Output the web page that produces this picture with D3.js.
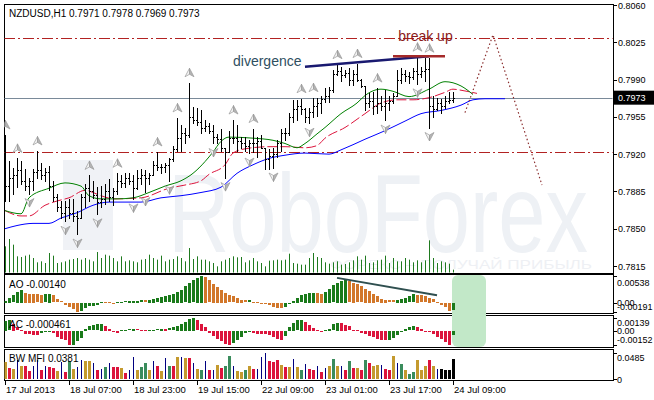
<!DOCTYPE html>
<html><head><meta charset="utf-8">
<script src="https://cdn.jsdelivr.net/npm/d3@7"></script>
<style>body{margin:0;background:#fff}svg{display:block;font-family:"Liberation Sans",Arial,sans-serif}</style>
</head><body><svg id="c" width="654" height="400"></svg>
<script>
// ---------- DATA ----------
const symbolTitle = "NZDUSD,H1  0.7971 0.7978 0.7969 0.7973";
const highs = [.7938,.7914,.7907,.7916,.7914,.7906,.7898,.7906,.7923,.7912,.7907,.7909,.7895,.7883,.7876,.7876,.7878,.7878,.7867,.7883,
.7892,.7900,.7895,.7889,.7890,.7892,.7897,.7888,.7902,.7900,.7902,.7902,.7900,.7905,.7906,.7905,.7902,.7914,.7922,.7911,
.7912,.7916,.7928,.7954,.7947,.7945,.7987,.7964,.7963,.7961,.7952,.7949,.7947,.7939,.7944,.7926,.7942,.7952,.7947,.7936,
.7936,.7933,.7944,.7936,.7938,.7926,.7925,.7926,.7933,.7944,.7945,.7959,.7971,.7971,.7972,.7963,.7963,.7973,.7973,.7975,
.7982,.7983,.7999,.8004,.8002,.7999,.8001,.7999,.8005,.7991,.7984,.7977,.7978,.7982,.7975,.7980,.7975,.7977,.7999,.8001,
.7999,.7997,.8001,.8011,.8002,.8010,.8010,.7975,.7973,.7972,.7975,.7978,.7978];
const lows = [.7876,.7876,.7883,.7889,.7892,.7886,.7883,.7886,.7898,.7897,.7895,.7886,.7876,.7867,.7860,.7857,.7860,.7857,.7845,.7860,
.7870,.7876,.7879,.7864,.7870,.7873,.7876,.7872,.7883,.7889,.7889,.7892,.7878,.7887,.7892,.7884,.7892,.7900,.7905,.7902,
.7903,.7895,.7914,.7923,.7923,.7930,.7936,.7949,.7947,.7940,.7942,.7940,.7930,.7930,.7923,.7898,.7922,.7930,.7923,.7926,
.7923,.7921,.7922,.7917,.7926,.7906,.7906,.7907,.7917,.7923,.7933,.7938,.7950,.7952,.7958,.7950,.7949,.7955,.7956,.7959,
.7969,.7969,.7978,.7994,.7989,.7992,.7985,.7985,.7989,.7983,.7961,.7964,.7958,.7959,.7961,.7952,.7961,.7968,.7975,.7987,
.7989,.7987,.7991,.7986,.7992,.7989,.7945,.7955,.7961,.7959,.7963,.7968,.7969];
const closes = [.7890,.7898,.7900,.7905,.7895,.7890,.7895,.7903,.7905,.7900,.7903,.7890,.7880,.7870,.7865,.7870,.7865,.7862,.7860,.7880,
.7888,.7885,.7882,.7875,.7878,.7885,.7880,.7885,.7895,.7893,.7898,.7895,.7888,.7898,.7900,.7898,.7900,.7910,.7908,.7908,
.7910,.7915,.7925,.7935,.7940,.7938,.7955,.7952,.7950,.7945,.7946,.7942,.7936,.7934,.7926,.7922,.7935,.7935,.7932,.7930,
.7928,.7930,.7930,.7932,.7926,.7915,.7918,.7920,.7930,.7940,.7940,.7955,.7962,.7965,.7962,.7955,.7960,.7965,.7968,.7972,
.7975,.7980,.7995,.7998,.7994,.7996,.7990,.7995,.7990,.7984,.7968,.7970,.7965,.7968,.7965,.7968,.7970,.7975,.7990,.7995,
.7993,.7992,.7998,.7995,.7998,.8000,.7965,.7962,.7968,.7965,.7970,.7971,.7973];
const firstOpen = 0.7930;
const volumes = [800,1020,850,500,480,520,550,450,320,350,300,600,520,300,320,350,400,420,450,400,
450,400,350,630,450,550,520,450,350,500,350,380,350,320,400,420,550,450,400,520,
350,400,420,500,450,350,750,420,500,400,400,350,300,200,350,400,450,500,470,480,
320,380,450,350,300,200,370,380,400,380,400,580,300,280,250,250,450,600,480,450,
320,280,320,350,250,270,320,380,500,400,520,300,320,380,400,520,300,450,350,350,
450,400,320,380,320,380,980,450,300,350,320,280,100];
const lipsLine = [[0,.7867],[4,.7864],[6,.7879],[11,.7888],[15,.7893],[19,.7890],[21,.7881],[24,.7878],[28,.7878],[32,.7879],[36,.7884],[40,.7890],[44,.7895],[47,.7902],[50,.7913],[52,.7922],[54,.7932],[56,.7936],[62,.7935],[67,.7933],[70,.7930],[73,.7926],[75,.7930],[78,.7939],[80,.7945],[84,.7958],[88,.7968],[90,.7975],[94,.7981],[97,.7979],[101,.7974],[106,.7981],[110,.7988],[114,.7984],[117,.7976]];
const teethLine = [[0,.7867],[4,.7862],[6,.7862],[10,.7872],[13,.7876],[16,.7879],[20,.7886],[24,.7881],[27,.7878],[34,.7879],[41,.7888],[45,.7891],[49,.7895],[51,.7901],[55,.7910],[57,.7921],[60,.7925],[66,.7927],[70,.7927],[75,.7926],[78,.7928],[80,.7935],[85,.7945],[90,.7958],[94,.7968],[98,.7971],[102,.7971],[106,.7973],[110,.7978],[112,.7981],[114,.7980],[118,.7977]];
const jawLine = [[0,.7850],[3,.7853],[7,.7855],[11,.7855],[14,.7860],[18,.7865],[22,.7872],[26,.7875],[30,.7875],[34,.7875],[39,.7879],[44,.7881],[49,.7884],[54,.7889],[58,.7902],[62,.7910],[66,.7916],[70,.7919],[75,.7921],[81,.7920],[84,.7924],[90,.7934],[95,.7942],[100,.7951],[104,.7958],[109,.7961],[114,.7966],[117,.7971],[120,.7972],[125,.7972]];
const upFractals = [0,3,8,21,28,38,43,46,57,62,74,77,83,88,93,103,106];
const downFractals = [6,15,18,23,32,35,41,52,55,61,67,76,95,103,106];
const aoValues = [.00034,.00101,.00149,.00216,.00263,.00196,.00182,.00178,.00169,.00160,.00170,.00175,.00149,.00068,.00027,-.00034,-.00074,-.00122,-.00191,-.00155,
-.00108,-.00070,-.00054,-.00034,.00012,.00008,.00004,-.00003,.00005,.00015,.00027,.00034,.00036,.00041,.00047,.00044,.00061,.00074,.00088,.00115,
.00128,.00149,.00182,.00216,.00263,.00331,.00398,.00452,.00500,.00538,.00520,.00452,.00385,.00317,.00263,.00196,.00149,.00128,.00094,.00061,
.00047,.00050,.00020,.00007,-.00007,-.00020,-.00041,-.00074,-.00101,-.00105,-.00074,-.00020,.00034,.00101,.00149,.00182,.00196,.00203,.00196,.00182,
.00216,.00284,.00351,.00405,.00439,.00466,.00432,.00398,.00371,.00331,.00284,.00236,.00182,.00128,.00081,.00061,.00047,.00045,.00061,.00081,
.00101,.00128,.00169,.00162,.00149,.00128,.00101,.00068,.00020,-.00034,-.00088,-.00169,-.00140];
const acValues = [.00101,.00108,.00072,.00036,.00007,-.00029,-.00036,-.00040,-.00043,-.00020,-.00005,.00000,-.00020,-.00060,-.00085,-.00100,-.00148,-.00145,-.00110,-.00075,
.00018,.00045,.00055,.00065,.00072,.00050,.00020,-.00010,-.00018,.00005,.00012,.00015,.00018,.00014,.00012,.00008,.00010,.00012,.00014,.00022,
.00020,.00025,.00036,.00050,.00070,.00090,.00125,.00139,.00110,.00072,.00040,-.00018,-.00050,-.00080,-.00110,-.00140,-.00150,-.00130,-.00100,-.00060,
-.00020,-.00005,-.00025,-.00030,-.00032,-.00036,-.00040,-.00065,-.00080,-.00090,-.00050,.00040,.00080,.00110,.00115,.00090,.00060,.00030,.00008,-.00010,
.00005,.00020,.00065,.00085,.00082,.00060,.00045,.00010,.00002,-.00018,-.00035,-.00050,-.00065,-.00080,-.00090,-.00100,-.00095,-.00075,-.00045,-.00015,
.00020,.00035,.00045,.00040,.00020,.00000,-.00010,-.00035,-.00060,-.00085,-.00115,-.00152,-.000461];
const mfiValues = [.0311,.0205,.0193,.0361,.0236,.0236,.0143,.0236,.0348,.0162,.0249,.0218,.0205,.0156,.0311,.0131,.0330,.0187,.0224,.0348,
.0330,.0330,.0299,.0174,.0187,.0218,.0299,.0224,.0224,.0199,.0112,.0174,.0404,.0174,.0218,.0299,.0174,.0330,.0236,.0156,
.0392,.0236,.0249,.0404,.0410,.0392,.0386,.0299,.0187,.0174,.0330,.0162,.0174,.0267,.0205,.0236,.0435,.0236,.0143,.0124,
.0174,.0236,.0187,.0187,.0410,.0485,.0330,.0311,.0348,.0267,.0224,.0218,.0373,.0224,.0174,.0280,.0187,.0174,.0249,.0124,
.0205,.0236,.0373,.0236,.0236,.0174,.0342,.0205,.0205,.0174,.0361,.0299,.0249,.0267,.0267,.0187,.0174,.0435,.0299,.0280,
.0174,.0100,.0124,.0348,.0174,.0236,.0361,.0236,.0187,.0187,.0174,.0174,.0381];
// g = green, b = brown (fade), n = blue (fake), p = pink (squat)
const mfiKinds = "bpbnbppnnpnppbnpgbnnbbnpngnppbpnnbggbnpbngpbnbpnbgnpnbpggnbbgbpnnnpppbpbnbgnppnpnbgbnpgpbpgpbbnppbngbggbbbpbn".split("");
const priceTicks = [0.8060,0.8025,0.7990,0.7955,0.7920,0.7885,0.7850,0.7815];
const timeBars = [0,16,32,48,64,80,96,112];
const timeTexts = ["17 Jul 2013","18 Jul 07:00","18 Jul 23:00","19 Jul 15:00","22 Jul 09:00","23 Jul 01:00","23 Jul 17:00","24 Jul 09:00"];
const levelLines = [0.8029, 0.7922];
const currentPrice = 0.7973;
const divergenceLine = [[75,0.8002],[106,0.8012]];
const breakUpLine = [[97,0.8012],[110,0.8012]];
const forecastLine = [[115,0.7959],[122,0.8032],[134.25,0.7891]];
const aoDivergenceLine = [[83,0.00500],[108,0.00150]];
const labelDivergence = {bar:57, price:0.8003, text:"divergence"};
const labelBreakUp = {bar:98.3, price:0.80262, text:"break up"};
const aoTicks = {max:"0.00538", zero:"0.00", min:"-0.00191"};
const acTicks = {max:"0.00139", zero:"0.00", min:"-0.00152"};
const mfiTicks = {max:"0.0485", zero:"0"};
const highlightBars = [111.75, 120.25];

// ---------- LAYOUT ----------
const svg = d3.select("#c");
const L = 4, R = 613;
const P = {price:[4,273], ao:[274,313], ac:[315,347], mfi:[349,380]};
const x = d3.scaleLinear().domain([0,112]).range([5,453]);
const y = d3.scaleLinear().domain([0.7815,0.8060]).range([266,5]);
const yv = d3.scaleLinear().domain([0,3000]).range([273,173]);
const yao = d3.scaleLinear().domain([-0.00191,0.00538]).range([312,276]);
const yac = d3.scaleLinear().domain([-0.00152,0.00139]).range([345,317.5]);
const ymfi = d3.scaleLinear().domain([0,0.0485]).range([379,353]);
const n = closes.length;
const opens = closes.map((c,i)=> i===0 ? firstOpen : closes[i-1]);

const defs = svg.append("defs");
Object.entries(P).forEach(([k,[t,b]])=>{
  defs.append("clipPath").attr("id","clip-"+k).append("rect").attr("x",L+0.5).attr("y",t+0.5).attr("width",R-L-1).attr("height",b-t-1);
});

// panel frames
Object.values(P).forEach(([t,b])=>{
  svg.append("rect").attr("x",L+0.5).attr("y",t+0.5).attr("width",R-L).attr("height",b-t)
    .attr("fill","#fff").attr("stroke","#000").attr("stroke-width",1);
});

// ---------- PRICE PANEL ----------
const gp = svg.append("g").attr("clip-path","url(#clip-price)");
// watermark
gp.append("path").attr("d","M63,160 h50 v90 h-50 z").attr("fill","#f0f2f6");
gp.append("text").attr("transform","translate(168,252) scale(1,1.3)").attr("font-size",85).attr("textLength",420).attr("lengthAdjust","spacingAndGlyphs")
  .attr("fill","#eef1f5").text("RoboForex");
gp.append("text").attr("x",330).attr("y",269).attr("font-size",12).attr("textLength",262).attr("lengthAdjust","spacingAndGlyphs")
  .attr("fill","#eef0f4").text("ФОРЕКС – ПОЛУЧАЙ ПРИБЫЛЬ");

// volumes
gp.selectAll("line.vol").data(volumes).join("line").attr("class","vol")
  .attr("x1",(d,i)=>x(i)+0.5).attr("x2",(d,i)=>x(i)+0.5).attr("y1",yv(0)).attr("y2",d=>yv(d))
  .attr("stroke","#1f7a1f").attr("stroke-width",1);

// level lines
levelLines.forEach(p=>{
  gp.append("line").attr("x1",L).attr("x2",R).attr("y1",Math.round(y(p))+0.5).attr("y2",Math.round(y(p))+0.5)
    .attr("stroke","#b22222").attr("stroke-width",1).attr("stroke-dasharray","11,3,2,3");
});
gp.append("line").attr("x1",L).attr("x2",R).attr("y1",Math.round(y(currentPrice))+0.5).attr("y2",Math.round(y(currentPrice))+0.5)
  .attr("stroke","#7a8a99").attr("stroke-width",1);

// alligator
const line = d3.line().x(d=>x(d[0])).y(d=>y(d[1])).curve(d3.curveMonotoneX);
gp.append("path").attr("d",line(jawLine)).attr("fill","none").attr("stroke","#0000ff").attr("stroke-width",1);
gp.append("path").attr("d",line(teethLine)).attr("fill","none").attr("stroke","#dc143c").attr("stroke-width",1).attr("stroke-dasharray","10,3");
gp.append("path").attr("d",line(lipsLine)).attr("fill","none").attr("stroke","#008000").attr("stroke-width",1);

// OHLC bars
const gb = gp.append("g").attr("fill","#000").attr("shape-rendering","crispEdges");
for(let i=0;i<n;i++){
  const xi = x(i);
  const yh = Math.round(y(highs[i])), yl = Math.round(y(lows[i]));
  gb.append("rect").attr("x",xi).attr("y",yh).attr("width",1).attr("height",Math.max(1,yl-yh+1));
  gb.append("rect").attr("x",xi-1).attr("y",Math.round(y(opens[i]))).attr("width",1).attr("height",1);
  gb.append("rect").attr("x",xi+1).attr("y",Math.round(y(closes[i]))).attr("width",1).attr("height",1);
}

// fractal arrows
function arrow(g,cx,cy,up){
  const s = up?1:-1;
  g.append("path").attr("d",`M${cx},${cy-4.5*s} L${cx-4.5},${cy+4*s} L${cx},${cy+1.5*s} Z`).attr("fill","#f2f2f2").attr("stroke","#9a9a9a").attr("stroke-width",0.7);
  g.append("path").attr("d",`M${cx},${cy-4.5*s} L${cx+4.5},${cy+4*s} L${cx},${cy+1.5*s} Z`).attr("fill","#b4b4b4").attr("stroke","#9a9a9a").attr("stroke-width",0.7);
}
const ga = gp.append("g");
upFractals.forEach(i=>arrow(ga,x(i)+0.5,y(highs[i])-10,true));
downFractals.forEach(i=>arrow(ga,x(i)+0.5,y(lows[i])+9,false));

// annotations
const lin = d3.line().x(d=>x(d[0])).y(d=>y(d[1]));
gp.append("path").attr("d",lin(forecastLine)).attr("fill","none").attr("stroke","#8b2e2e").attr("stroke-width",1.2).attr("stroke-dasharray","1.5,2.5");
gp.append("path").attr("d",lin(divergenceLine)).attr("fill","none").attr("stroke","#191970").attr("stroke-width",2.5);
gp.append("path").attr("d",lin(breakUpLine)).attr("fill","none").attr("stroke","#a52a2a").attr("stroke-width",2.5);
gp.append("text").attr("x",x(labelDivergence.bar)).attr("y",y(labelDivergence.price)).attr("font-size",14).attr("fill","#2f4f5f").text(labelDivergence.text);
gp.append("text").attr("x",x(labelBreakUp.bar)).attr("y",y(labelBreakUp.price)).attr("font-size",14).attr("fill","#8b1a1a").text(labelBreakUp.text);

svg.append("text").attr("x",9).attr("y",17).attr("font-size",10).attr("fill","#000").text(symbolTitle);

// ---------- INDICATOR PANELS ----------
svg.append("rect").attr("x",x(highlightBars[0])).attr("y",P.ao[0]+1).attr("width",x(highlightBars[1])-x(highlightBars[0]))
  .attr("height",P.ac[1]-P.ao[0]-1).attr("rx",6).attr("fill","#c2e8c8");

function histo(vals, ys, up, down, clip){
  const g = svg.append("g").attr("clip-path",`url(#clip-${clip})`).attr("shape-rendering","crispEdges");
  g.selectAll("rect").data(vals).join("rect")
    .attr("x",(d,i)=>x(i)-1).attr("width",3)
    .attr("y",d=>Math.round(Math.min(ys(d),ys(0)))).attr("height",d=>Math.max(1,Math.round(Math.abs(ys(d)-ys(0)))))
    .attr("fill",(d,i)=> (i===0 || d>vals[i-1]) ? up : down);
}
histo(aoValues, yao, "#1a7a1a", "#d2772a", "ao");
histo(acValues, yac, "#1a7a1a", "#dc143c", "ac");
svg.append("path").attr("d",d3.line().x(d=>x(d[0])).y(d=>yao(d[1]))(aoDivergenceLine)).attr("fill","none").attr("stroke","#2f4f4f").attr("stroke-width",2);

// MFI
const mfiColor = {g:"#3a8c5c", b:"#c49a2e", n:"#000080", p:"#dc143c"};
const gm = svg.append("g").attr("clip-path","url(#clip-mfi)").attr("shape-rendering","crispEdges");
gm.selectAll("rect").data(mfiValues).join("rect")
  .attr("x",(d,i)=> mfiKinds[i]==="n" ? x(i) : x(i)-1).attr("width",(d,i)=> mfiKinds[i]==="n" ? 1 : 3)
  .attr("y",d=>Math.round(ymfi(d))).attr("height",d=>Math.round(ymfi(0)-ymfi(d)))
  .attr("fill",(d,i)=>mfiColor[mfiKinds[i]]);

// panel captions
svg.append("text").attr("x",9).attr("y",288).attr("font-size",10).text("AO -0.00140");
svg.append("text").attr("x",9).attr("y",328).attr("font-size",10).text("AC -0.000461");
svg.append("text").attr("x",9).attr("y",362).attr("font-size",10).text("BW MFI 0.0381");

// ---------- RIGHT AXIS ----------
const ax = svg.append("g").attr("font-size",9).attr("fill","#000");
priceTicks.forEach(p=>{
  ax.append("line").attr("x1",R).attr("x2",R+4).attr("y1",Math.round(y(p))+0.5).attr("y2",Math.round(y(p))+0.5).attr("stroke","#000");
  ax.append("text").attr("x",R+5).attr("y",y(p)+3.5).text(d3.format(".4f")(p));
});
const cy = y(currentPrice);
svg.append("rect").attr("x",R+1).attr("y",cy-7).attr("width",654-R-1).attr("height",14).attr("fill","#000");
svg.append("text").attr("x",R+5).attr("y",cy+3.5).attr("font-size",9).attr("fill","#fff").text(d3.format(".4f")(currentPrice));

function subTicks(ys, t, maxV, minV, maxDy){
  ax.append("text").attr("x",R+4).attr("y",ys(maxV)+maxDy).text(t.max);
  ax.append("text").attr("x",R+4).attr("y",ys(0)+3.5).text(t.zero);
  if(t.min) ax.append("text").attr("x",R+4).attr("y",ys(minV)-2).text(t.min);
  [maxV,0].concat(t.min?[minV]:[]).forEach(v=>ax.append("line").attr("x1",R).attr("x2",R+4).attr("y1",Math.round(ys(v))+0.5).attr("y2",Math.round(ys(v))+0.5).attr("stroke","#000"));
}
subTicks(yao, aoTicks, 0.00538, -0.00191, 9.5);
subTicks(yac, acTicks, 0.00139, -0.00152, 8);
subTicks(ymfi, mfiTicks, 0.0485, 0, 8);

// ---------- TIME AXIS ----------
timeBars.forEach((b,k)=>{
  svg.append("line").attr("x1",x(b)+0.5).attr("x2",x(b)+0.5).attr("y1",380).attr("y2",385).attr("stroke","#000");
  svg.append("text").attr("x",x(b)+1).attr("y",393).attr("font-size",9.5).text(timeTexts[k]);
});
</script></body></html>
